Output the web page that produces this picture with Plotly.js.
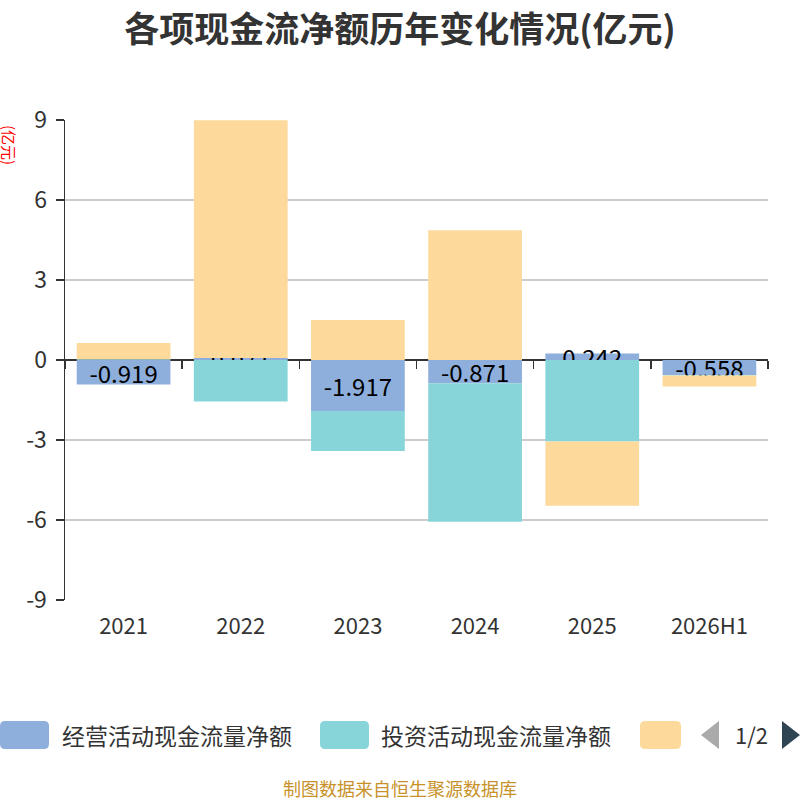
<!DOCTYPE html>
<html>
<head>
<meta charset="utf-8">
<script src="https://cdn.plot.ly/plotly-3.0.1.min.js"></script>
<style>html,body{margin:0;padding:0;background:#fff;}#chart{width:800px;height:800px;}</style>
</head>
<body>
<div id="chart"></div>
<script>
const categories = ["2021", "2022", "2023", "2024", "2025", "2026H1"];
const seriesNames = ["经营活动现金流量净额", "投资活动现金流量净额", "筹资活动现金流量净额"];
const operating = [-0.919, 0.071, -1.917, -0.871, 0.242, -0.558];
const investing = [0.03, -1.56, -1.50, -5.19, -3.06, -0.02];
const financing = [0.61, 8.92, 1.50, 4.87, -2.41, -0.42];
const yTicks = [-9, -6, -3, 0, 3, 6, 9];
const colors = ["#8eaedb", "#87d5d9", "#fdd99b"];
const FONT = '"Noto Sans CJK SC", "Noto Sans", sans-serif';

const traces = [
  {
    type: 'bar', name: seriesNames[0], x: categories, y: operating,
    marker: {color: colors[0]},
    text: operating.map(v => v.toFixed(3)),
    textposition: 'inside', insidetextanchor: 'middle', constraintext: 'none',
    insidetextfont: {family: FONT, size: 24, color: '#000'},
    cliponaxis: false, showlegend: false, hoverinfo: 'x+y'
  },
  {
    type: 'bar', name: seriesNames[1], x: categories, y: investing,
    marker: {color: colors[1]}, showlegend: false, textposition: 'none'
  },
  {
    type: 'bar', name: seriesNames[2], x: categories, y: financing,
    marker: {color: colors[2]}, showlegend: false, textposition: 'none'
  },
  {
    type: 'scatter', mode: 'markers', x: categories, y: categories.map(() => null),
    xaxis: 'x2', yaxis: 'y', showlegend: false, hoverinfo: 'skip'
  }
];

// pixel -> paper helpers (plot area x 65..768, y 120..600)
const PX = p => (p - 65) / 703;
const PY = p => (600 - p) / 480;
function roundRect(x0, y0, x1, y1, r) {
  const pts = [
    'M', PX(x0 + r), PY(y0),
    'L', PX(x1 - r), PY(y0),
    'Q', PX(x1), PY(y0), PX(x1), PY(y0 + r),
    'L', PX(x1), PY(y1 - r),
    'Q', PX(x1), PY(y1), PX(x1 - r), PY(y1),
    'L', PX(x0 + r), PY(y1),
    'Q', PX(x0), PY(y1), PX(x0), PY(y1 - r),
    'L', PX(x0), PY(y0 + r),
    'Q', PX(x0), PY(y0), PX(x0 + r), PY(y0), 'Z'];
  return pts.join(' ');
}

// custom legend (decoration)
const shapes = [];
const annotations = [];
const legendY = 735;
const legendItems = [
  {x0: 0, x1: 49, text: seriesNames[0], tx: 60},
  {x0: 320, x1: 369, text: seriesNames[1], tx: 379},
  {x0: 640, x1: 681, text: null, tx: 0}
];
legendItems.forEach((it, i) => {
  shapes.push({type: 'path', xref: 'paper', yref: 'paper',
    path: roundRect(it.x0, legendY - 14, it.x1, legendY + 14, 5),
    fillcolor: colors[i], line: {width: 0}, layer: 'above'});
  if (it.text) {
    annotations.push({xref: 'paper', yref: 'paper', x: PX(it.tx), y: PY(legendY),
      xanchor: 'left', yanchor: 'middle', showarrow: false, text: it.text,
      font: {family: FONT, size: 23, color: '#333'}});
  }
});
// paging arrows
shapes.push({type: 'path', xref: 'paper', yref: 'paper',
  path: 'M ' + PX(719) + ' ' + PY(721) + ' L ' + PX(701) + ' ' + PY(735) + ' L ' + PX(719) + ' ' + PY(749) + ' Z',
  fillcolor: '#aaaaaa', line: {width: 0}});
shapes.push({type: 'path', xref: 'paper', yref: 'paper',
  path: 'M ' + PX(782) + ' ' + PY(721) + ' L ' + PX(800) + ' ' + PY(735) + ' L ' + PX(782) + ' ' + PY(749) + ' Z',
  fillcolor: '#2f4554', line: {width: 0}});
annotations.push({xref: 'paper', yref: 'paper', x: PX(751), y: PY(734),
  xanchor: 'center', yanchor: 'middle', showarrow: false, text: '1/2',
  font: {family: FONT, size: 22, color: '#333'}});
// y-axis name
annotations.push({xref: 'paper', yref: 'paper', x: PX(10), y: PY(145),
  xanchor: 'center', yanchor: 'middle', showarrow: false, text: '(亿元)', textangle: 90,
  font: {family: FONT, size: 15, color: '#ff0000'}});
// footer
annotations.push({xref: 'paper', yref: 'paper', x: PX(400), y: PY(788),
  xanchor: 'center', yanchor: 'middle', showarrow: false, text: '制图数据来自恒生聚源数据库',
  font: {family: FONT, size: 18, color: '#c8922a'}});

const layout = {
  width: 800, height: 800,
  margin: {l: 65, r: 32, t: 120, b: 200},
  paper_bgcolor: '#fff', plot_bgcolor: '#fff',
  barmode: 'relative', bargap: 0.2,
  title: {text: '<b>各项现金流净额历年变化情况(亿元)</b>', x: 0.5, xanchor: 'center',
    yref: 'container', y: 0.963, yanchor: 'middle',
    font: {family: FONT, size: 35, color: '#333'}},
  font: {family: FONT, color: '#333'},
  xaxis: {type: 'category', categoryorder: 'array', categoryarray: categories,
    showgrid: false, showline: false, zeroline: false, ticks: '', ticklabelstandoff: 11,
    tickfont: {family: FONT, size: 22, color: '#333'}, fixedrange: true},
  xaxis2: {type: 'category', categoryorder: 'array', categoryarray: categories,
    overlaying: 'x', matches: 'x', anchor: 'free', position: 0.5, side: 'bottom',
    showticklabels: false, showgrid: false, showline: false, zeroline: false,
    ticks: 'outside', tickson: 'boundaries', ticklen: 8, tickwidth: 1.5, tickcolor: '#333'},
  yaxis: {range: [-9, 9], tickvals: yTicks, ticktext: yTicks.map(String),
    showgrid: true, gridcolor: '#cccccc', gridwidth: 1.5,
    zeroline: true, zerolinecolor: '#333', zerolinewidth: 1.5,
    showline: true, linecolor: '#333', linewidth: 1.5,
    ticks: 'outside', ticklen: 8, tickwidth: 1.5, tickcolor: '#333', ticklabelstandoff: 4,
    tickfont: {family: FONT, size: 23, color: '#333'}, fixedrange: true},
  shapes: shapes,
  annotations: annotations,
  showlegend: false
};

Plotly.newPlot('chart', traces, layout, {displayModeBar: false, staticPlot: true});
</script>
</body>
</html>
